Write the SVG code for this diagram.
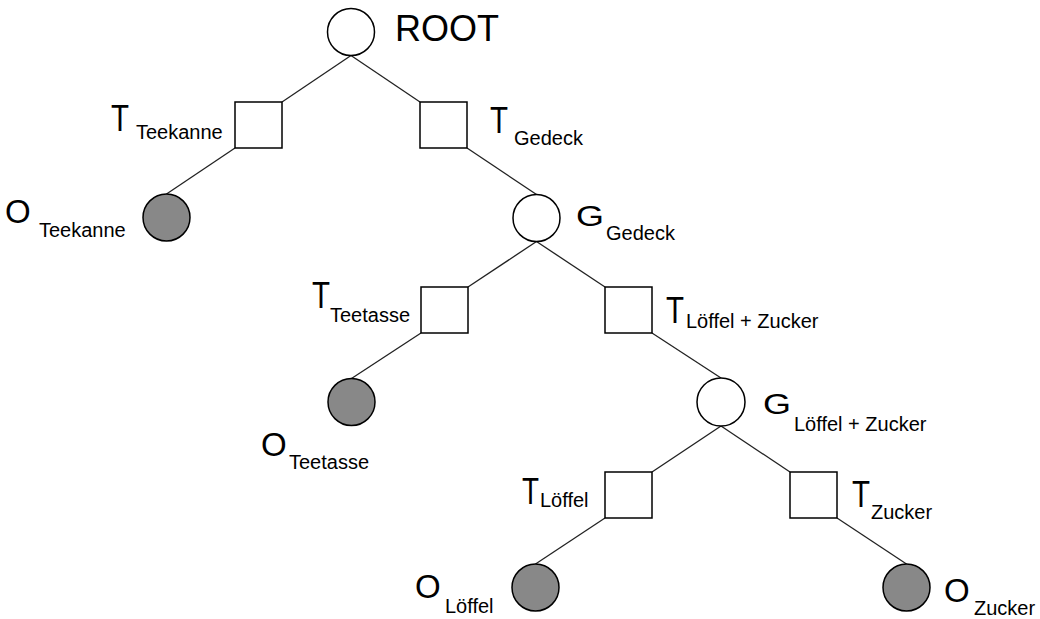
<svg xmlns="http://www.w3.org/2000/svg" width="1040" height="619" viewBox="0 0 1040 619">
<style>
.c{fill:#ffffff;stroke:#000;stroke-width:1.5}
.o{fill:#888888;stroke:#000;stroke-width:1.5}
.s{fill:#ffffff;stroke:#000;stroke-width:1.5}
.e{stroke:#222;stroke-width:1.3;fill:none}
.big{font-family:"Liberation Sans",Arial,sans-serif;font-size:36px;fill:#000}
.T{font-family:"Liberation Sans",Arial,sans-serif;font-size:36px;fill:#000}
.G{font-family:"Liberation Sans",Arial,sans-serif;font-size:30px;fill:#000}
.O{font-family:"Liberation Sans",Arial,sans-serif;font-size:33px;fill:#000}
.sub{font-family:"Liberation Sans",Arial,sans-serif;font-size:20px;fill:#000}
</style>
<rect width="1040" height="619" fill="#ffffff"/>
<g id="connectors">
<line class="e" x1="351" y1="55.5" x2="282" y2="102"/>
<line class="e" x1="351" y1="55.5" x2="420" y2="102"/>
<line class="e" x1="235" y1="148" x2="166.5" y2="194"/>
<line class="e" x1="467" y1="148" x2="536.5" y2="194.5"/>
<line class="e" x1="536.5" y1="241.5" x2="468" y2="287"/>
<line class="e" x1="536.5" y1="241.5" x2="605" y2="287"/>
<line class="e" x1="421" y1="333" x2="351.5" y2="378.5"/>
<line class="e" x1="652" y1="333" x2="721" y2="378"/>
<line class="e" x1="721" y1="426" x2="652" y2="472"/>
<line class="e" x1="721" y1="426" x2="790" y2="472"/>
<line class="e" x1="605" y1="518" x2="535.5" y2="564"/>
<line class="e" x1="837" y1="518" x2="906.5" y2="564"/>
</g>
<g id="root">
<circle class="c" cx="351" cy="32" r="23.5"/>
<text class="big" x="395" y="41">ROOT</text>
</g>
<g id="t-teekanne">
<rect class="s" x="235" y="102" width="47" height="46"/>
<text class="T" x="111" y="131" textLength="18" lengthAdjust="spacingAndGlyphs">T</text>
<text class="sub" x="136" y="139">Teekanne</text>
</g>
<g id="t-gedeck">
<rect class="s" x="420" y="102" width="47" height="46"/>
<text class="T" x="490" y="133" textLength="18" lengthAdjust="spacingAndGlyphs">T</text>
<text class="sub" x="514" y="145">Gedeck</text>
</g>
<g id="o-teekanne">
<circle class="o" cx="166.5" cy="217.5" r="23.5"/>
<text class="O" x="5" y="223">O</text>
<text class="sub" x="39" y="237">Teekanne</text>
</g>
<g id="g-gedeck">
<circle class="c" cx="536.5" cy="218" r="23.5"/>
<text class="G" x="576" y="226" textLength="28" lengthAdjust="spacingAndGlyphs">G</text>
<text class="sub" x="606" y="240">Gedeck</text>
</g>
<g id="t-teetasse">
<rect class="s" x="421" y="287" width="47" height="46"/>
<text class="T" x="312" y="308" textLength="18" lengthAdjust="spacingAndGlyphs">T</text>
<text class="sub" x="330" y="322">Teetasse</text>
</g>
<g id="t-loeffel-zucker">
<rect class="s" x="605" y="287" width="47" height="46"/>
<text class="T" x="666" y="323" textLength="18" lengthAdjust="spacingAndGlyphs">T</text>
<text class="sub" x="686" y="328">Löffel + Zucker</text>
</g>
<g id="o-teetasse">
<circle class="o" cx="351.5" cy="402" r="23.5"/>
<text class="O" x="261" y="456">O</text>
<text class="sub" x="289" y="469">Teetasse</text>
</g>
<g id="g-loeffel-zucker">
<circle class="c" cx="721" cy="402" r="24"/>
<text class="G" x="763" y="414" textLength="28" lengthAdjust="spacingAndGlyphs">G</text>
<text class="sub" x="794" y="431">Löffel + Zucker</text>
</g>
<g id="t-loeffel">
<rect class="s" x="605" y="472" width="47" height="46"/>
<text class="T" x="522" y="504" textLength="17" lengthAdjust="spacingAndGlyphs">T</text>
<text class="sub" x="540" y="507">Löffel</text>
</g>
<g id="t-zucker">
<rect class="s" x="790" y="472" width="47" height="46"/>
<text class="T" x="852" y="507" textLength="18" lengthAdjust="spacingAndGlyphs">T</text>
<text class="sub" x="871" y="519">Zucker</text>
</g>
<g id="o-loeffel">
<circle class="o" cx="535.5" cy="587.5" r="23.5"/>
<text class="O" x="415" y="598">O</text>
<text class="sub" x="445" y="613">Löffel</text>
</g>
<g id="o-zucker">
<circle class="o" cx="906.5" cy="587.5" r="23.5"/>
<text class="O" x="944" y="602">O</text>
<text class="sub" x="974" y="615">Zucker</text>
</g>
</svg>
